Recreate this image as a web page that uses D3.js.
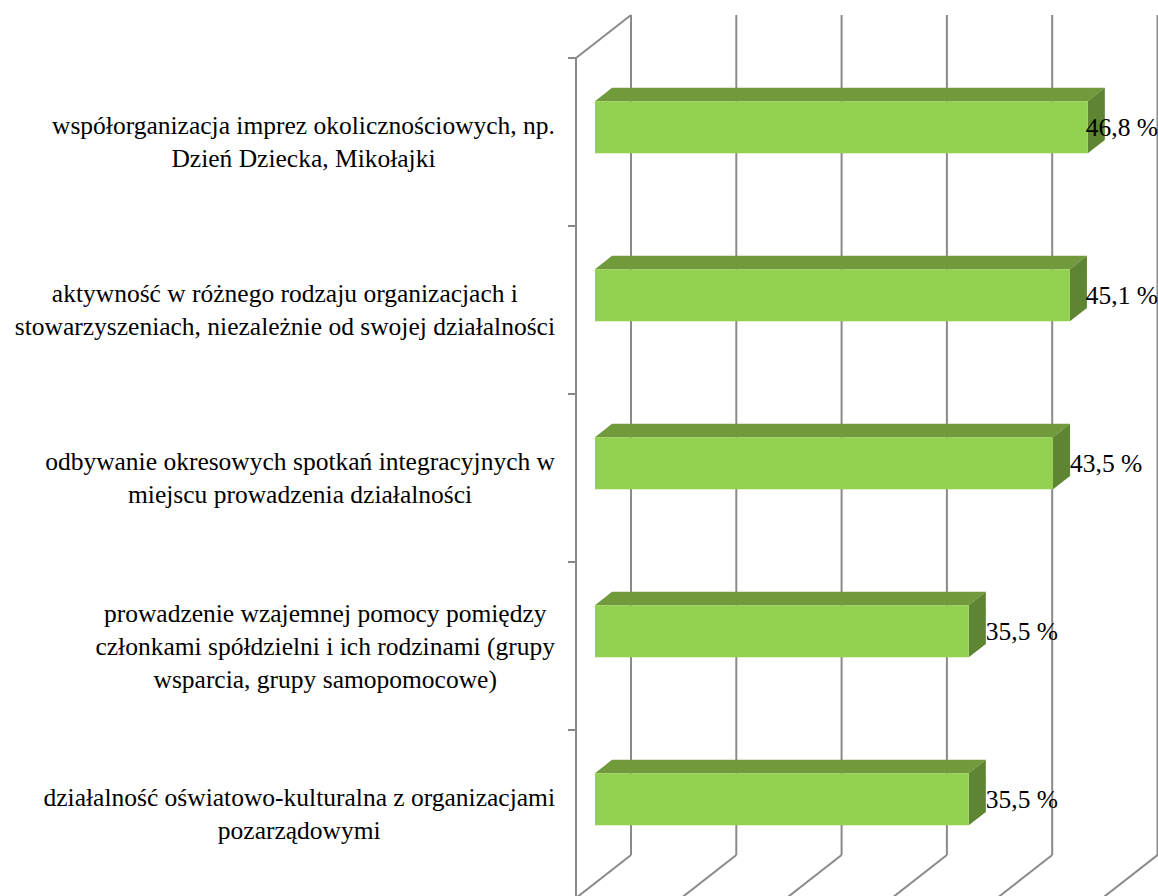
<!DOCTYPE html>
<html>
<head>
<meta charset="utf-8">
<script src="https://cdn.jsdelivr.net/npm/d3@7"></script>
<style>
  body { margin: 0; background: #fff; }
</style>
</head>
<body>
<div id="chart"></div>
<script>
// data
const categories = [
  ["współorganizacja imprez okolicznościowych, np.", "Dzień Dziecka, Mikołajki"],
  ["aktywność w różnego rodzaju organizacjach i", "stowarzyszeniach, niezależnie od swojej działalności"],
  ["odbywanie okresowych spotkań integracyjnych w", "miejscu prowadzenia działalności"],
  ["prowadzenie wzajemnej pomocy pomiędzy", "członkami spółdzielni i ich rodzinami (grupy", "wsparcia, grupy samopomocowe)"],
  ["działalność oświatowo-kulturalna z organizacjami", "pozarządowymi"]
];
const values = [46.8, 45.1, 43.5, 35.5, 35.5];
const xTicks = [0, 10, 20, 30, 40, 50];

const W = 1158, H = 896;
const FONT = "'Liberation Serif', 'Times New Roman', serif";
const svg = d3.select("#chart").append("svg")
  .attr("width", W).attr("height", H);

// 3d layout: front plane and depth offset
const front = {left: 576, top: 58, bottom: 898};
const depth = {dx: 55, dy: -43};
const barT0 = 0.345, barT1 = 0.655;   // depth span of the bars
const grid = "#8a8a8a";

const x = d3.scaleLinear().domain([0, 50]).range([0, 526.5]);
const y = d3.scaleBand().domain(d3.range(categories.length))
  .range([front.top, front.bottom]).paddingInner(0.69).paddingOuter(0.345);

// point in the box: value v, front-plane y, depth t
const P = (v, yy, t) => [front.left + x(v) + depth.dx * t, yy + depth.dy * t];

// back wall gridlines + floor lines
const backTop = front.top + depth.dy, backBottom = front.bottom + depth.dy;
xTicks.forEach(v => {
  const [bx] = P(v, 0, 1);
  svg.append("line").attr("x1", bx).attr("x2", bx)
    .attr("y1", backTop).attr("y2", backBottom)
    .attr("stroke", grid).attr("stroke-width", 2);
  const [fx] = P(v, 0, 0);
  svg.append("line").attr("x1", bx).attr("y1", backBottom)
    .attr("x2", fx).attr("y2", front.bottom)
    .attr("stroke", grid).attr("stroke-width", 2);
});

// left wall top edge and front axis
svg.append("line")
  .attr("x1", P(0, 0, 0)[0]).attr("y1", front.top)
  .attr("x2", P(0, 0, 1)[0]).attr("y2", backTop)
  .attr("stroke", grid).attr("stroke-width", 2);
svg.append("line")
  .attr("x1", front.left).attr("x2", front.left)
  .attr("y1", front.top).attr("y2", front.bottom)
  .attr("stroke", grid).attr("stroke-width", 2);

// category ticks
const step = y.step();
d3.range(categories.length + 1).forEach(i => {
  const ty = front.top + i * step;
  svg.append("line").attr("x1", front.left - 8).attr("x2", front.left)
    .attr("y1", ty).attr("y2", ty)
    .attr("stroke", grid).attr("stroke-width", 2);
});

// bars
const bh = y.bandwidth();
const bars = svg.selectAll(".bar").data(values).enter().append("g").attr("class", "bar");
bars.each(function(v, i) {
  const g = d3.select(this);
  const cy = y(i) + bh / 2;
  const yTop = cy - bh / 2, yBot = cy + bh / 2;
  const poly = pts => pts.map(p => p.join(",")).join(" ");
  // top face
  g.append("polygon").attr("points", poly([
    P(0, yTop, barT0), P(v, yTop, barT0), P(v, yTop, barT1), P(0, yTop, barT1)
  ])).attr("fill", "#709a3c");
  // side face
  g.append("polygon").attr("points", poly([
    P(v, yTop, barT0), P(v, yTop, barT1), P(v, yBot, barT1), P(v, yBot, barT0)
  ])).attr("fill", "#5e8531");
  // front face
  g.append("polygon").attr("points", poly([
    P(0, yTop, barT0), P(v, yTop, barT0), P(v, yBot, barT0), P(0, yBot, barT0)
  ])).attr("fill", "#92d050");

  // value label
  const [sx] = P(v, cy, barT1);
  const lbl = g.append("text")
    .attr("y", P(v, cy, barT0)[1]).attr("dy", "0.35em")
    .attr("font-family", FONT).attr("font-size", 25.5).attr("fill", "#000")
    .text(d3.format(".1f")(v).replace(".", ",") + " %");
  const w = lbl.node().getComputedTextLength();
  lbl.attr("x", Math.min(sx, W - w));
});

// category labels, right-limited block, lines centred inside it
const lineH = 33, labelRight = 555;
categories.forEach((lines, i) => {
  const cy = y(i) + bh / 2;
  const t = svg.append("text").attr("font-family", FONT).attr("font-size", 25.5)
    .attr("fill", "#000").attr("text-anchor", "middle");
  const spans = lines.map((s, j) => t.append("tspan")
    .attr("y", cy + (j - (lines.length - 1) / 2) * lineH)
    .attr("dy", "0.35em").text(s));
  const maxW = d3.max(spans, s => s.node().getComputedTextLength());
  spans.forEach(s => s.attr("x", labelRight - maxW / 2));
});
</script>
</body>
</html>
